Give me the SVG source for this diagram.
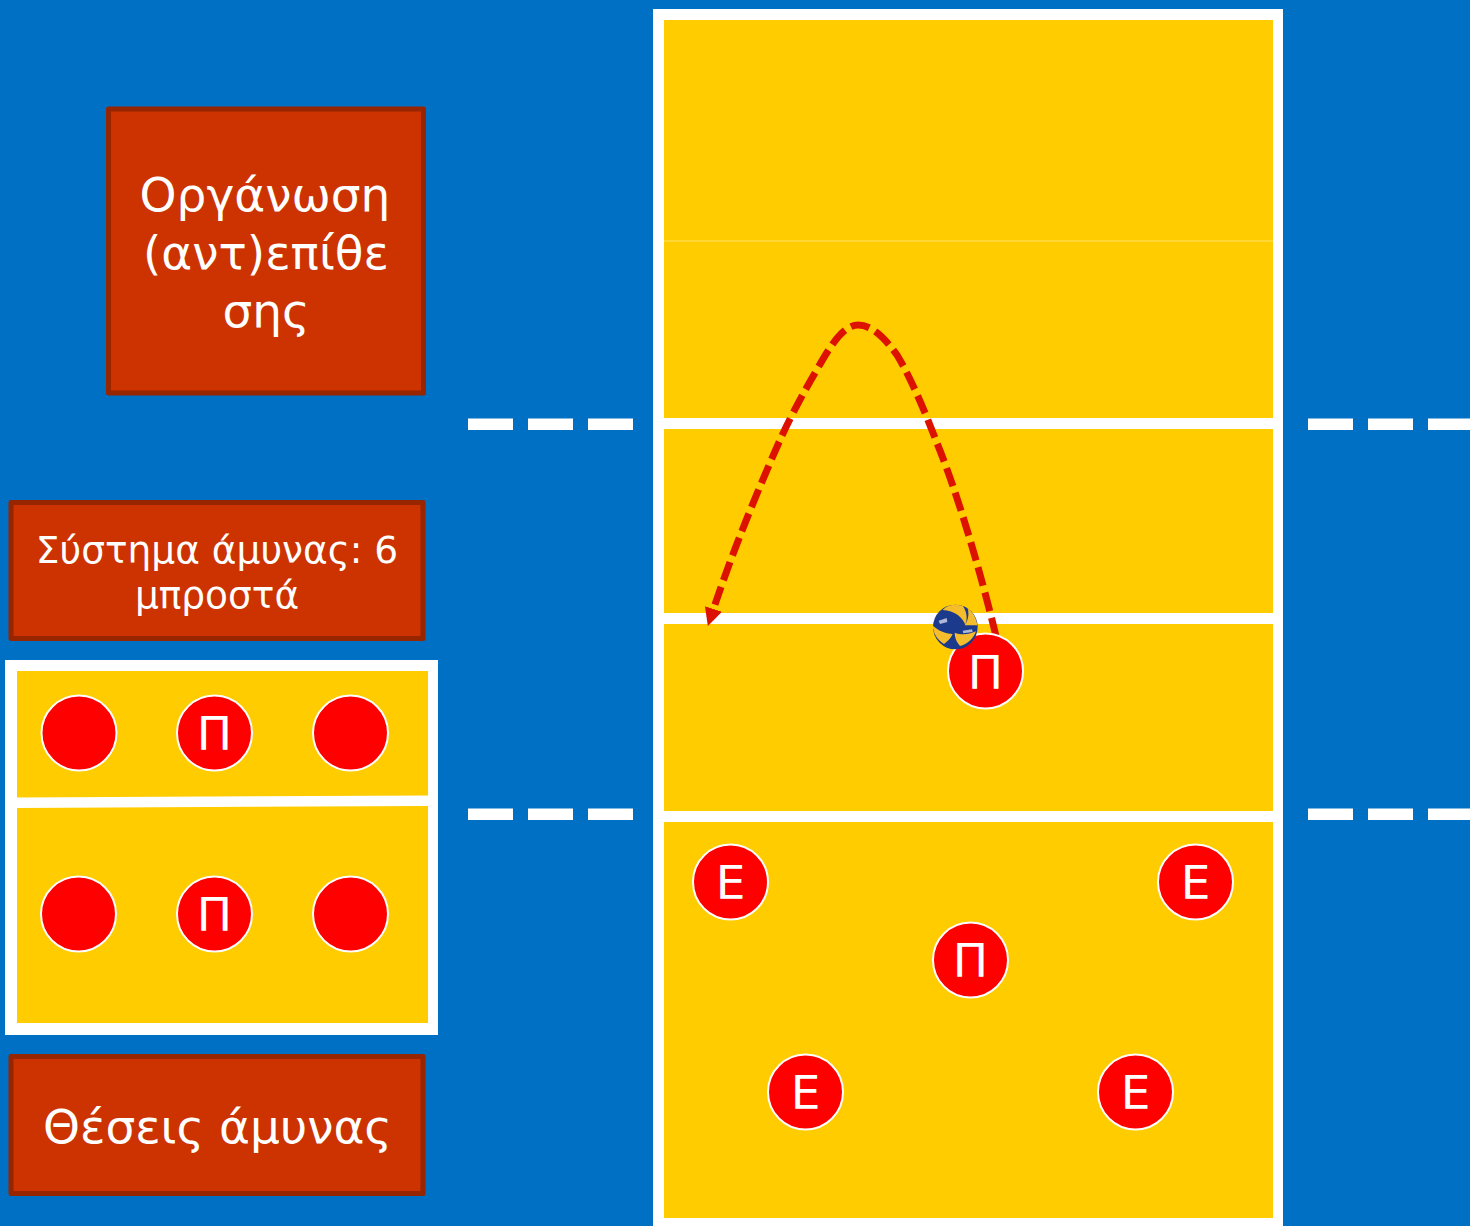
<svg xmlns="http://www.w3.org/2000/svg" width="1470" height="1226" viewBox="0 0 1470 1226">
<defs>
<marker id="arrow" markerUnits="userSpaceOnUse" markerWidth="20" markerHeight="20" refX="0" refY="9" orient="auto"><path d="M0 0L18 9L0 18Z" fill="#dd1100"/></marker>
<clipPath id="ballClip"><circle cx="82" cy="81" r="67"/></clipPath>
</defs>
<style>
text{font-family:"DejaVu Sans",Verdana,sans-serif;fill:#fff;text-anchor:middle}
.box{fill:#cc3300;stroke:#962500;stroke-width:5;stroke-linejoin:round}
.yard{fill:#ffcc00}
.line{fill:#fff}
.dash{stroke:#fff;stroke-width:11.500;stroke-dasharray:45 15;fill:none}
.p{fill:#ff0000;stroke:#fff;stroke-width:2}
.t{font-size:47px}
.b1{font-size:47px}
.b2{font-size:37.500px}
.gold{fill:#f5bd2c}
</style>
<rect width="1470" height="1226" fill="#0070c4"/>
<g id="court">
<rect class="line" x="653" y="9" width="630" height="1217"/>
<rect class="yard" x="664" y="20" width="609" height="1198"/>
<rect x="664" y="240" width="609" height="2" fill="#ffd633"/>
<rect class="line" x="664" y="418" width="609" height="11"/>
<rect class="line" x="653" y="613" width="620" height="11"/>
<rect class="line" x="664" y="811" width="609" height="11"/>
</g>
<g id="side-lines">
<path class="dash" d="M468 424.200H633M1308 424.200H1470M468 814.200H633M1308 814.200H1470"/>
</g>
<g id="mini-court">
<rect class="line" x="5" y="660" width="433" height="375"/>
<path class="yard" d="M17 671H428V795.500L17 797.500Z"/>
<path class="yard" d="M17 808L428 806V1023H17Z"/>
</g>
<g id="box-title"><rect class="box" x="108.500" y="109" width="315" height="284"/>
<text class="b1" x="265" y="210.500">Οργάνωση</text><text class="b1" x="266" y="268.500">(αντ)επίθε</text><text class="b1" x="266" y="326.500">σης</text></g>
<g id="box-system"><rect class="box" x="11" y="502.500" width="412" height="136"/>
<text class="b2" x="217" y="562.500">Σύστημα άμυνας: 6</text><text class="b2" x="217" y="607.500">μπροστά</text></g>
<g id="box-positions"><rect class="box" x="11" y="1056.500" width="412" height="137"/>
<text class="b1" x="217.500" y="1142.500">Θέσεις άμυνας</text></g>
<g id="connectors">
<path d="M996 636C980 570 958 495 937 443C925 412 911 378 897 355C885 338 872 325 858 325C842 325 828 350 815 373C802 395 790 418 780 440C760 485 733 550 713.500 609" fill="none" stroke="#dd1100" stroke-width="7" stroke-dasharray="19 7" marker-end="url(#arrow)"/>
</g>
<g id="m1"><circle class="p" cx="79" cy="733" r="37.500"/></g>
<g id="m2"><circle class="p" cx="214.500" cy="733" r="37.500"/><text class="t" x="214.500" y="750">Π</text></g>
<g id="m3"><circle class="p" cx="350.500" cy="733" r="37.500"/></g>
<g id="m4"><circle class="p" cx="78.500" cy="914" r="37.500"/></g>
<g id="m5"><circle class="p" cx="214.500" cy="914" r="37.500"/><text class="t" x="214.500" y="931">Π</text></g>
<g id="m6"><circle class="p" cx="350.500" cy="914" r="37.500"/></g>
<g id="player-setter"><circle class="p" cx="985.500" cy="671" r="37.500"/><text class="t" x="985.500" y="689">Π</text></g>
<g id="ball" transform="translate(928 600) scale(.3333)">
<circle cx="82" cy="81" r="67" fill="#1b3a8c"/>
<g clip-path="url(#ballClip)">
<path class="gold" d="M44 30C60 12 85 8 105 18C115 34 120 52 112 74C104 52 80 32 44 30Z"/>
<path class="gold" d="M118 22C134 36 146 55 148 76L110 76C122 60 124 40 118 22Z"/>
<path class="gold" d="M80 98C100 106 122 104 144 94C136 116 118 134 96 138C86 126 80 114 80 98Z"/>
<path class="gold" d="M14 76C30 92 50 100 74 102C68 116 58 124 48 132C28 120 14 98 14 76Z"/>
<path d="M32 62L56 54L58 66L36 72Z" fill="#aeb7d6"/>
<path d="M104 92L132 88L134 96L106 100Z" fill="#aeb7d6"/>
</g>
</g>
<g id="e1"><circle class="p" cx="730.500" cy="882" r="37.500"/><text class="t" x="730.500" y="899">Ε</text></g>
<g id="e2"><circle class="p" cx="1195.500" cy="882" r="37.500"/><text class="t" x="1195.500" y="899">Ε</text></g>
<g id="p3"><circle class="p" cx="970.500" cy="960" r="37.500"/><text class="t" x="970.500" y="977">Π</text></g>
<g id="e3"><circle class="p" cx="805.500" cy="1092" r="37.500"/><text class="t" x="805.500" y="1109">Ε</text></g>
<g id="e4"><circle class="p" cx="1135.500" cy="1092" r="37.500"/><text class="t" x="1135.500" y="1109">Ε</text></g>
</svg>
